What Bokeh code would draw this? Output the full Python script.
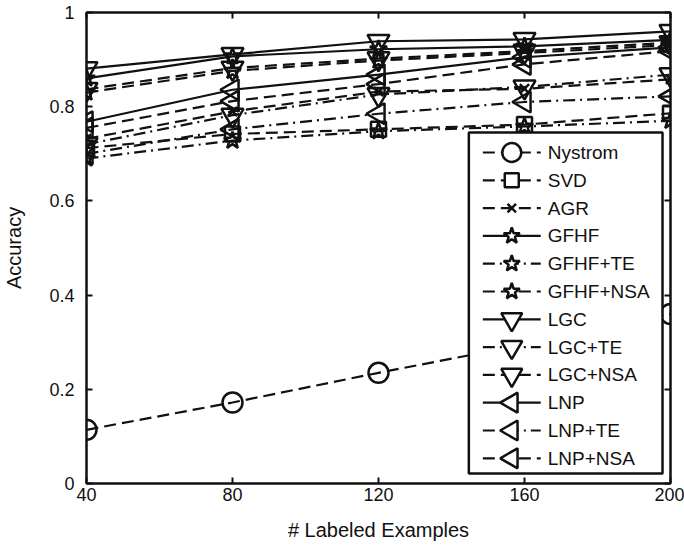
from bokeh.plotting import figure
from bokeh.models import (LinearAxis, FixedTicker, PrintfTickFormatter, Range1d,
                          CustomJSTickFormatter)
from bokeh.core.properties import value
from bokeh.embed import file_html
from bokeh.resources import INLINE
import math

# ---------------- data ----------------
labeled = [40, 80, 120, 160, 200]
x_ticks = [40, 80, 120, 160, 200]
y_ticks = [0, 0.2, 0.4, 0.6, 0.8, 1.0]

nystrom   = [0.114, 0.172, 0.235, 0.295, 0.360]
svd       = [0.712, 0.742, 0.752, 0.762, 0.786]
agr       = [0.732, 0.790, 0.832, 0.838, 0.858]
gfhf      = [0.860, 0.907, 0.922, 0.928, 0.942]
gfhf_te   = [0.690, 0.728, 0.748, 0.758, 0.770]
gfhf_nsa  = [0.830, 0.876, 0.898, 0.914, 0.931]
lgc       = [0.881, 0.911, 0.939, 0.943, 0.960]
lgc_te    = [0.720, 0.782, 0.826, 0.842, 0.868]
lgc_nsa   = [0.837, 0.882, 0.902, 0.918, 0.936]
lnp       = [0.768, 0.836, 0.868, 0.905, 0.926]
lnp_te    = [0.700, 0.752, 0.785, 0.810, 0.822]
lnp_nsa   = [0.755, 0.812, 0.848, 0.890, 0.918]

series_names = ["Nystrom", "SVD", "AGR", "GFHF", "GFHF+TE", "GFHF+NSA",
                "LGC", "LGC+TE", "LGC+NSA", "LNP", "LNP+TE", "LNP+NSA"]
series_values = [nystrom, svd, agr, gfhf, gfhf_te, gfhf_nsa,
                 lgc, lgc_te, lgc_nsa, lnp, lnp_te, lnp_nsa]

# ---------------- styles ----------------
DASH = "12 6"
DASHDOT = "12 5 2 5"
SOLID = "solid"
LEFT = math.pi / 2
styles = {
    "Nystrom":  dict(dash=DASH,    marker="circle",            size=20, angle=0),
    "SVD":      dict(dash=DASH,    marker="square",            size=15, angle=0),
    "AGR":      dict(dash=DASH,    marker="x",                 size=13, angle=0),
    "GFHF":     dict(dash=SOLID,   marker="star",              size=18, angle=0),
    "GFHF+TE":  dict(dash=DASHDOT, marker="star",              size=18, angle=0),
    "GFHF+NSA": dict(dash=DASH,    marker="star",              size=18, angle=0),
    "LGC":      dict(dash=SOLID,   marker="inverted_triangle", size=22, angle=0),
    "LGC+TE":   dict(dash=DASHDOT, marker="inverted_triangle", size=22, angle=0),
    "LGC+NSA":  dict(dash=DASH,    marker="inverted_triangle", size=22, angle=0),
    "LNP":      dict(dash=SOLID,   marker="triangle",          size=21, angle=LEFT),
    "LNP+TE":   dict(dash=DASHDOT, marker="triangle",          size=21, angle=LEFT),
    "LNP+NSA":  dict(dash=DASH,    marker="triangle",          size=21, angle=LEFT),
}

FONT = "Liberation Sans"
INK = "#111111"

W, H = 684, 545
FRAME_L, FRAME_T = 85, 12
FRAME_R_BORDER, FRAME_B_BORDER = 14, 62
FRAME_W = W - FRAME_L - FRAME_R_BORDER
FRAME_H = H - FRAME_T - FRAME_B_BORDER

p = figure(width=W, height=H, x_range=Range1d(40, 200), y_range=Range1d(0, 1),
           output_backend="svg", toolbar_location=None,
           min_border_left=FRAME_L, min_border_right=FRAME_R_BORDER,
           min_border_top=FRAME_T, min_border_bottom=FRAME_B_BORDER,
           x_axis_label="# Labeled Examples", y_axis_label="Accuracy",
           background_fill_color="white", border_fill_color="white")
p.xgrid.visible = False
p.ygrid.visible = False
p.outline_line_color = INK
p.outline_line_width = 2


def style_axis(ax, show_labels=True):
    ax.axis_line_width = 2
    ax.axis_line_color = INK
    ax.major_tick_line_width = 2
    ax.major_tick_line_color = INK
    ax.major_tick_in = 6
    ax.major_tick_out = 0
    ax.minor_tick_in = 0
    ax.minor_tick_out = 0
    ax.minor_tick_line_color = None
    if show_labels:
        ax.major_label_text_font = FONT
        ax.major_label_text_font_size = "18px"
        ax.major_label_text_color = INK
        ax.axis_label_text_font = FONT
        ax.axis_label_text_font_size = "20px"
        ax.axis_label_text_font_style = "normal"
        ax.axis_label_text_color = INK
    else:
        ax.major_label_text_font_size = "0px"
        ax.major_label_standoff = 0
        ax.formatter = CustomJSTickFormatter(code="return ''")


xa = p.xaxis[0]
xa.ticker = FixedTicker(ticks=x_ticks)
style_axis(xa)
xa.major_label_standoff = 4
xa.axis_label_standoff = 15

ya = p.yaxis[0]
ya.ticker = FixedTicker(ticks=y_ticks)
ya.formatter = PrintfTickFormatter(format="%g")
style_axis(ya)
ya.major_label_standoff = 12
ya.axis_label_standoff = 21

top_ax = LinearAxis(ticker=FixedTicker(ticks=x_ticks))
style_axis(top_ax, show_labels=False)
p.add_layout(top_ax, "above")
right_ax = LinearAxis(ticker=FixedTicker(ticks=y_ticks))
style_axis(right_ax, show_labels=False)
p.add_layout(right_ax, "right")

# ---------------- series ----------------
for name, vals in zip(series_names, series_values):
    st = styles[name]
    p.line(labeled, vals, line_color=INK, line_width=2.2, line_dash=st["dash"])
    p.scatter(labeled, vals, marker=st["marker"], size=st["size"], angle=st["angle"],
              line_color=INK, line_width=2.5, fill_alpha=0)

# ---------------- legend (drawn in frame, pixel layout -> data) ----------------
def dx(px):
    return 40 + (px - FRAME_L) / FRAME_W * 160


def dy(py):
    return 1 - (py - FRAME_T) / FRAME_H


LEG_L, LEG_R, LEG_T, LEG_B = 468, 662, 132, 473
ROW0, PITCH = 152, 27.8
SEG_A, SEG_B, MARK_X, TEXT_X = 482, 540, 511, 547

p.quad(left=dx(LEG_L), right=dx(LEG_R), top=dy(LEG_T), bottom=dy(LEG_B),
       fill_color="white", line_color=INK, line_width=2.5)

for i, name in enumerate(series_names):
    st = styles[name]
    ry = dy(ROW0 + i * PITCH)
    p.segment(x0=[dx(SEG_A)], y0=[ry], x1=[dx(SEG_B)], y1=[ry],
              line_color=INK, line_width=2.2, line_dash=st["dash"])
    p.scatter([dx(MARK_X)], [ry], marker=st["marker"], size=st["size"] - 1,
              angle=st["angle"], line_color=INK, line_width=2.5,
              fill_color="white", fill_alpha=1)
    p.text([dx(TEXT_X)], [ry], text=[name], text_font=value(FONT),
           text_font_size=value("19px"), text_baseline="middle",
           text_align="left", text_color=INK)

open("out.html", "w").write(file_html(p, INLINE))
